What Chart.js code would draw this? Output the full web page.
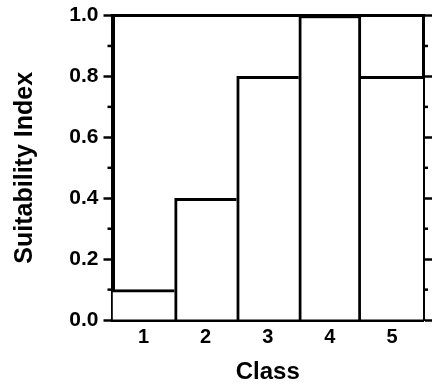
<!DOCTYPE html>
<html><head><meta charset="utf-8">
<script src="https://cdn.jsdelivr.net/npm/chart.js@4"></script>
<style>html,body{margin:0;padding:0;background:#fff;} canvas{display:block;}</style>
</head><body>
<canvas id="c" width="439" height="390"></canvas>
<script>
const classes = ['1', '2', '3', '4', '5'];
const suitability = [0.1, 0.4, 0.8, 1.0, 0.8];
const yTickLabels = ['0.0', '0.2', '0.4', '0.6', '0.8', '1.0'];
const yTickStep = 0.1;

const ink = '#000';
const fontFam = "'Liberation Sans', Arial, Helvetica, sans-serif";

function barBorder(ctx) {
  const d = ctx.dataset.data, i = ctx.dataIndex, v = d[i];
  const prev = i > 0 ? d[i - 1] : Infinity;
  const next = i < d.length - 1 ? d[i + 1] : Infinity;
  return { top: 3, bottom: 0, left: v >= prev ? 3 : 0, right: v > next ? 3 : 0 };
}

const majorOnly = (c) => (c.index % 2 === 0 ? ink : 'rgba(0,0,0,0)');

const minorTicks = {
  id: 'minorTicks',
  afterDraw(chart) {
    const c = chart.ctx;
    c.save();
    c.strokeStyle = ink;
    c.lineWidth = 2.5;
    ['y', 'y2'].forEach(id => {
      const s = chart.scales[id];
      s.ticks.forEach((t, i) => {
        if (i % 2 === 0) return;
        const py = s.getPixelForTick(i);
        c.beginPath();
        if (s.position === 'left') { c.moveTo(s.right, py); c.lineTo(s.right - 5, py); }
        else { c.moveTo(s.left, py); c.lineTo(s.left + 5, py); }
        c.stroke();
      });
    });
    c.restore();
  }
};

new Chart(document.getElementById('c'), {
  type: 'bar',
  data: {
    labels: classes,
    datasets: [{
      data: suitability,
      backgroundColor: '#fff',
      borderColor: ink,
      borderWidth: barBorder,
      borderSkipped: false,
      barPercentage: 1,
      categoryPercentage: 1,
      xAxisID: 'x',
      yAxisID: 'y'
    }]
  },
  options: {
    responsive: false,
    animation: false,
    events: [],
    layout: { padding: { left: 6, right: 7, top: 13, bottom: 1 } },
    plugins: { legend: { display: false }, tooltip: { enabled: false } },
    scales: {
      x: {
        type: 'category',
        position: 'bottom',
        grid: { display: true, drawOnChartArea: false, drawTicks: false },
        border: { display: true, color: ink, width: 3 },
        ticks: { color: ink, padding: 5, font: { family: fontFam, size: 20, weight: 'bold' } },
        title: { display: true, text: 'Class', color: ink, padding: { top: 3.5, bottom: 2.6 },
                 font: { family: fontFam, size: 24, weight: 'bold' } }
      },
      x2: {
        type: 'category',
        position: 'top',
        grid: { display: true, drawOnChartArea: false, drawTicks: false },
        border: { display: true, color: ink, width: 3 },
        ticks: { display: false }
      },
      y: {
        type: 'linear',
        position: 'left',
        min: 0, max: 1,
        grid: { display: true, drawOnChartArea: false, drawTicks: true, tickLength: 9, tickWidth: 2.5, tickColor: majorOnly },
        border: { display: true, color: ink, width: 4 },
        ticks: {
          stepSize: yTickStep, padding: 5, color: ink, autoSkip: false,
          font: { family: fontFam, size: 21, weight: 'bold', lineHeight: 1.0 },
          callback: (v, i) => (i % 2 === 0 ? yTickLabels[i / 2] : '')
        },
        title: { display: true, text: 'Suitability Index', color: ink, padding: { top: 4.5, bottom: 30 },
                 font: { family: fontFam, size: 25, weight: 'bold' } }
      },
      y2: {
        type: 'linear',
        position: 'right',
        min: 0, max: 1,
        grid: { display: true, drawOnChartArea: false, drawTicks: true, tickLength: 9, tickWidth: 2.5, tickColor: majorOnly },
        border: { display: true, color: ink, width: 3 },
        ticks: { display: false, stepSize: yTickStep, autoSkip: false }
      }
    }
  },
  plugins: [minorTicks]
});
</script>
</body></html>
